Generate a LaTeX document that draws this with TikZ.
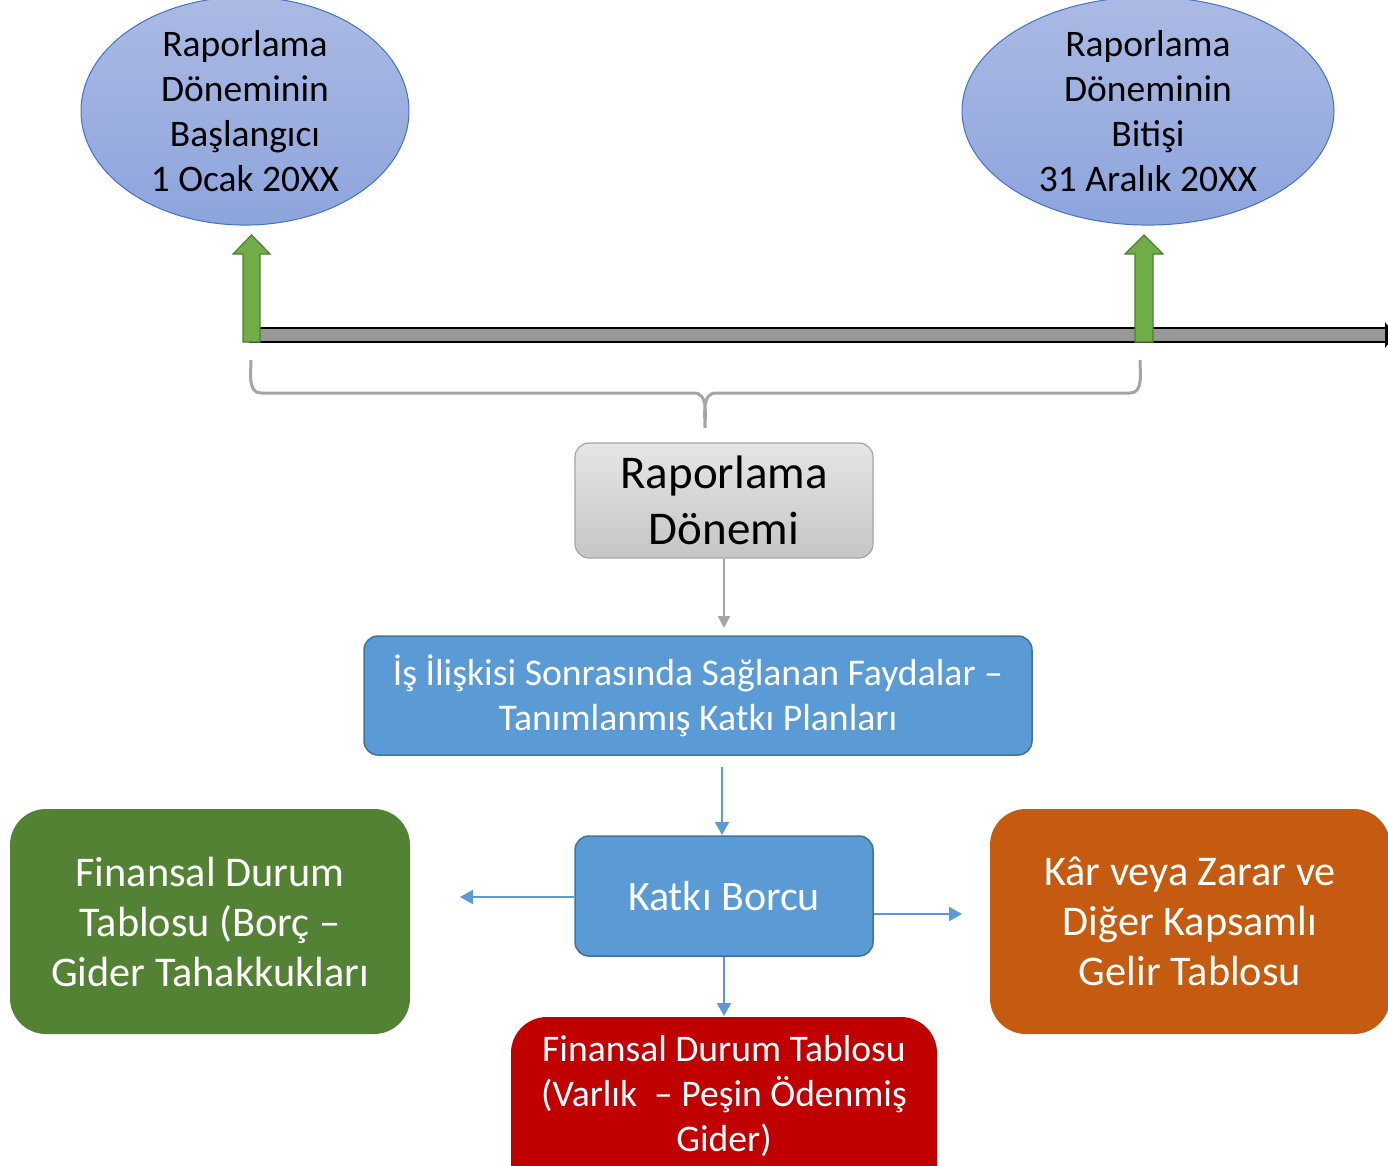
\documentclass[tikz,border=0pt]{standalone}
\usepackage{fontspec}
\setmainfont{Carlito}
\usetikzlibrary{shapes.geometric,arrows.meta}
\definecolor{ellTop}{HTML}{ABBAE4}
\definecolor{ellBot}{HTML}{8DA4DC}
\definecolor{ellLine}{HTML}{4472C4}
\definecolor{boxBlue}{HTML}{5B9BD5}
\definecolor{boxBlueLine}{HTML}{41719C}
\definecolor{boxGreen}{HTML}{548235}
\definecolor{boxOrange}{HTML}{C55A11}
\definecolor{boxRed}{HTML}{C00000}
\definecolor{arrGreen}{HTML}{70AD47}
\definecolor{arrGreenLine}{HTML}{507E32}
\definecolor{braceGray}{HTML}{A5A5A5}
\tikzset{
  ell/.style={ellipse, draw=ellLine, line width=1pt, top color=ellTop, bottom color=ellBot,
    align=center, font=\fontsize{37.5}{45}\selectfont, inner sep=0pt},
  bluebox/.style={rectangle, rounded corners=14pt, draw=boxBlueLine, line width=1.5pt, fill=boxBlue,
    text=white, align=center},
  bigbox/.style={rectangle, rounded corners=36pt, draw=none, text=white, align=center,
    font=\fontsize{42.3}{50}\selectfont},
  conn/.style={-{Triangle[length=13pt,width=14pt]}, line width=2pt, draw=boxBlue},
}
\begin{document}
\begin{tikzpicture}[x=1pt,y=-1pt]
\useasboundingbox (0,0) rectangle (1388,1165);
% ellipses
\node[ell, minimum width=328pt, minimum height=218pt] (start) at (245,111)
  {Raporlama\\Döneminin\\Başlangıcı\\1 Ocak 20XX};
\node[ell, minimum width=372pt, minimum height=218pt] (end) at (1148,111)
  {Raporlama\\Döneminin\\Bitişi\\31 Aralık 20XX};
% timeline bar
\fill[gray!85!black!70, draw=black, line width=1.2pt] (250,328) rectangle (1386,342);
\fill[black] (1385,322) -- (1395,335) -- (1385,348) -- cycle;
% green up arrows
\filldraw[fill=arrGreen, draw=arrGreenLine, line width=1.2pt]
  (243,342) -- (243,254) -- (233,254) -- (251.5,235) -- (270,254) -- (260,254) -- (260,342) -- cycle;
\filldraw[fill=arrGreen, draw=arrGreenLine, line width=1.2pt]
  (1135,342) -- (1135,254) -- (1125,254) -- (1144,235) -- (1163,254) -- (1153,254) -- (1153,342) -- cycle;
% brace
\draw[braceGray, line width=3pt]
  (251,360) to[out=-90,in=180] (261,393) -- (694,393) to[out=0,in=90] (705,428)
  (705,428) to[out=90,in=180] (716,393) -- (1130,393) to[out=0,in=-90] (1140,360);
% gray box
\node[rectangle, rounded corners=14pt, draw=braceGray, line width=1.2pt, top color=gray!20, bottom color=gray!45,
  minimum width=298pt, minimum height=115pt, align=center, font=\fontsize{47}{56}\selectfont] (period) at (724,500.5)
  {Raporlama\\Dönemi};
% blue box
\node[bluebox, minimum width=668pt, minimum height=119pt, font=\fontsize{37.7}{45}\selectfont] (plan) at (698,695.5)
  {İş İlişkisi Sonrasında Sağlanan Faydalar –\\Tanımlanmış Katkı Planları};
% katki borcu
\node[bluebox, minimum width=298pt, minimum height=120pt, font=\fontsize{42}{50}\selectfont] (debt) at (724,896)
  {Katkı Borcu};
% outcome boxes
\node[bigbox, fill=boxGreen, minimum width=400pt, minimum height=225pt] (fdt) at (210,921.5)
  {Finansal Durum\\Tablosu (Borç –\\Gider Tahakkukları};
\node[bigbox, fill=boxOrange, minimum width=400pt, minimum height=225pt] (kz) at (1190,921.5)
  {Kâr veya Zarar ve\\Diğer Kapsamlı\\Gelir Tablosu};
\node[bigbox, fill=boxRed, minimum width=426pt, minimum height=200pt] (fdt2) at (724,1117) {};
\node[text=white, align=center, font=\fontsize{37.6}{45}\selectfont] (fdt2t) at (724,1096)
  {Finansal Durum Tablosu\\(Varlık\ \ – Peşin Ödenmiş\\Gider)};
% connectors
\draw[-{Triangle[length=12pt,width=12pt]}, line width=2pt, draw=braceGray] (period.south) -- (724,628) coordinate (pin);
\coordinate (planout) at (722,767);
\draw[conn] (planout) -- (722,835);
\coordinate (lft) at (460,897);
\coordinate (rgt) at (962,914);
\draw[conn] (debt.west |- lft) -- (lft);
\draw[conn] (debt.east |- rgt) -- (rgt);
\draw[conn] (debt.south) -- (724,1016);
\end{tikzpicture}
\end{document}
